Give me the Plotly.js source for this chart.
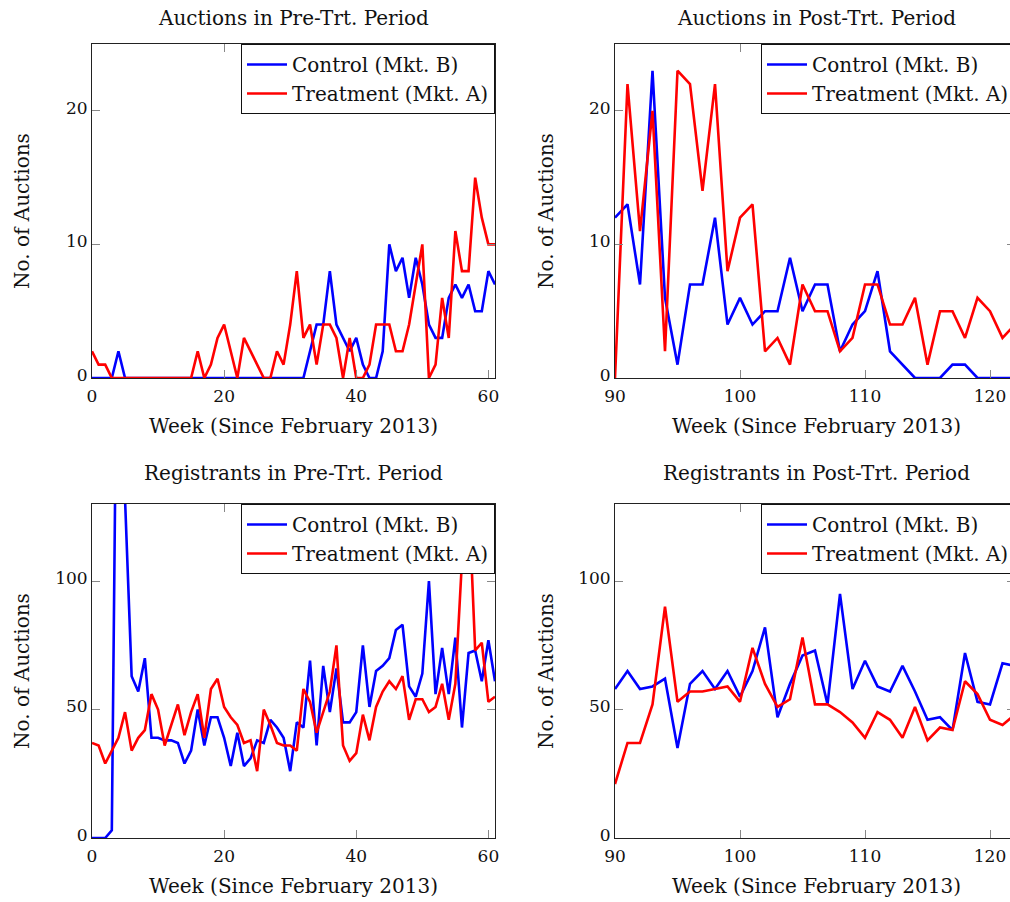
<!DOCTYPE html>
<html>
<head>
<meta charset="utf-8">
<script src="https://cdn.plot.ly/plotly-3.0.1.min.js"></script>
<style>html,body{margin:0;padding:0;overflow:hidden;background:#fff}</style>
</head>
<body>
<div id="chart"></div>
<script>
// ---------- DATA ----------
const weeksPre = [0,1,2,3,4,5,6,7,8,9,10,11,12,13,14,15,16,17,18,19,20,21,22,23,24,25,26,27,28,29,30,31,32,33,34,35,36,37,38,39,40,41,42,43,44,45,46,47,48,49,50,51,52,53,54,55,56,57,58,59,60,61];
const weeksPost = [90,91,92,93,94,95,96,97,98,99,100,101,102,103,104,105,106,107,108,109,110,111,112,113,114,115,116,117,118,119,120,121,122];

const auctionsPreControl = [0,0,0,0,2,0,0,0,0,0,0,0,0,0,0,0,0,0,0,0,0,0,0,0,0,0,0,0,0,0,0,0,0,2,4,4,8,4,3,2,3,1,0,0,2,10,8,9,6,9,7,4,3,3,6,7,6,7,5,5,8,7];
const auctionsPreTreatment = [2,1,1,0,0,0,0,0,0,0,0,0,0,0,0,0,2,0,1,3,4,2,0,3,2,1,0,0,2,1,4,8,3,4,1,4,4,3,0,3,0,0,1,4,4,4,2,2,4,7,10,0,1,6,3,11,8,8,15,12,10,10];

const auctionsPostControl = [12,13,7,23,6,1,7,7,12,4,6,4,5,5,9,5,7,7,2,4,5,8,2,1,0,0,0,1,1,0,0,0,0];
const auctionsPostTreatment = [0,22,11,20,2,23,22,14,22,8,12,13,2,3,1,7,5,5,2,3,7,7,4,4,6,1,5,5,3,6,5,3,4];

const registrantsPreControl = [0,0,0,3,265,132,63,57,70,39,39,38,38,37,29,34,50,36,47,47,39,28,41,28,31,38,37,46,43,39,26,45,43,69,36,67,49,66,45,45,49,75,51,65,67,70,81,83,59,55,64,100,56,74,56,78,43,72,73,61,77,61];
const registrantsPreTreatment = [37,36,29,34,39,49,34,39,42,56,50,36,44,52,40,49,56,39,58,62,51,47,44,37,38,26,50,44,37,36,36,34,58,53,41,49,57,75,36,30,33,48,38,51,57,61,58,63,46,54,54,49,51,60,46,60,108,135,73,76,53,55];

const registrantsPostControl = [58,65,58,59,62,35,60,65,58,65,55,65,82,47,60,71,73,52,95,58,69,59,57,67,57,46,47,42,72,53,52,68,67];
const registrantsPostTreatment = [21,37,37,52,90,53,57,57,58,59,53,74,60,51,54,78,52,52,49,45,39,49,46,39,51,38,43,42,61,56,46,44,48];

const seriesNames = ['Control (Mkt. B)', 'Treatment (Mkt. A)'];
const panelTitles = ['Auctions in Pre-Trt. Period', 'Auctions in Post-Trt. Period',
                     'Registrants in Pre-Trt. Period', 'Registrants in Post-Trt. Period'];
const xTitle = 'Week (Since February 2013)';
const yTitle = 'No. of Auctions';
const xTicksPre = [0,20,40,60];
const xTicksPost = [90,100,110,120];
const yTicksTop = [0,10,20];
const yTicksBottom = [0,50,100];

// ---------- LAYOUT ----------
const W = 1030, H = 902;
const FONT = 'DejaVu Serif, Liberation Serif, serif';
const BLUE = '#0000ff', RED = '#ff0000';
const px = v => v / W;
const py = v => (H - v) / H;

const box = {
  L: [92, 495], R: [615, 1015],
  T: [44, 378], B: [504, 838]
};

function axisX(dom, range, ticks, anchor) {
  return {
    domain: [px(dom[0]), px(dom[1])], range: range, anchor: anchor,
    tickvals: ticks, ticks: 'inside', ticklen: 8, tickcolor: '#888', tickwidth: 1,
    showline: true, linecolor: '#222', linewidth: 1, mirror: 'ticks',
    showgrid: false, zeroline: false, fixedrange: true,
    ticklabelstandoff: 3,
    tickfont: {family: FONT, size: 17, color: '#111'}
  };
}
function axisY(dom, range, ticks, anchor) {
  return {
    domain: [py(dom[1]), py(dom[0])], range: range, anchor: anchor,
    tickvals: ticks, ticks: 'inside', ticklen: 8, tickcolor: '#888', tickwidth: 1,
    showline: true, linecolor: '#222', linewidth: 1, mirror: 'ticks',
    showgrid: false, zeroline: false, fixedrange: true,
    ticklabelshift: -3,
    tickfont: {family: FONT, size: 17, color: '#111'}
  };
}

function tr(x, y, name, color, xa, ya, leg) {
  return {x: x, y: y, name: name, type: 'scatter', mode: 'lines',
          line: {color: color, width: 2.6}, xaxis: xa, yaxis: ya, legend: leg,
          hoverinfo: 'skip'};
}

const data = [
  tr(weeksPre, auctionsPreControl, seriesNames[0], BLUE, 'x', 'y', 'legend'),
  tr(weeksPre, auctionsPreTreatment, seriesNames[1], RED, 'x', 'y', 'legend'),
  tr(weeksPost, auctionsPostControl, seriesNames[0], BLUE, 'x2', 'y2', 'legend2'),
  tr(weeksPost, auctionsPostTreatment, seriesNames[1], RED, 'x2', 'y2', 'legend2'),
  tr(weeksPre, registrantsPreControl, seriesNames[0], BLUE, 'x3', 'y3', 'legend3'),
  tr(weeksPre, registrantsPreTreatment, seriesNames[1], RED, 'x3', 'y3', 'legend3'),
  tr(weeksPost, registrantsPostControl, seriesNames[0], BLUE, 'x4', 'y4', 'legend4'),
  tr(weeksPost, registrantsPostTreatment, seriesNames[1], RED, 'x4', 'y4', 'legend4')
];

function leg(xr, yt) {
  return {x: px(xr), xanchor: 'right', y: py(yt), yanchor: 'top',
          bgcolor: '#ffffff', bordercolor: '#111', borderwidth: 1,
          itemwidth: 40,
          font: {family: FONT, size: 20, color: '#111'}, tracegroupgap: 0};
}

function ann(text, x, y, opts) {
  return Object.assign({text: text, x: px(x), y: py(y), xref: 'paper', yref: 'paper',
    xanchor: 'center', yanchor: 'middle', showarrow: false,
    font: {family: FONT, size: 20, color: '#111'}}, opts || {});
}

const cxL = (box.L[0] + box.L[1]) / 2;
const annotations = [
  ann(panelTitles[0], cxL, 18), ann(panelTitles[1], 816, 18),
  ann(panelTitles[2], cxL, 473), ann(panelTitles[3], 816, 473),
  ann(xTitle, cxL, 426), ann(xTitle, 816, 426),
  ann(xTitle, cxL, 886), ann(xTitle, 816, 886),
  ann(yTitle, 22, 211, {textangle: -90}), ann(yTitle, 546, 211, {textangle: -90}),
  ann(yTitle, 22, 671, {textangle: -90}), ann(yTitle, 546, 671, {textangle: -90})
];

const layout = {
  width: W, height: H,
  margin: {l: 0, r: 0, t: 0, b: 0},
  paper_bgcolor: '#fff', plot_bgcolor: '#fff',
  font: {family: FONT, size: 18, color: '#111'},
  xaxis: axisX(box.L, [0, 61], xTicksPre, 'y'),
  yaxis: axisY(box.T, [0, 25], yTicksTop, 'x'),
  xaxis2: axisX(box.R, [90, 122], xTicksPost, 'y2'),
  yaxis2: axisY(box.T, [0, 25], yTicksTop, 'x2'),
  xaxis3: axisX(box.L, [0, 61], xTicksPre, 'y3'),
  yaxis3: axisY(box.B, [0, 130], yTicksBottom, 'x3'),
  xaxis4: axisX(box.R, [90, 122], xTicksPost, 'y4'),
  yaxis4: axisY(box.B, [0, 130], yTicksBottom, 'x4'),
  legend: leg(box.L[1], box.T[0]),
  legend2: leg(box.R[1], box.T[0]),
  legend3: leg(box.L[1], box.B[0]),
  legend4: leg(box.R[1], box.B[0]),
  annotations: annotations,
  showlegend: true
};

Plotly.newPlot('chart', data, layout, {staticPlot: true, displayModeBar: false});
</script>
</body>
</html>
